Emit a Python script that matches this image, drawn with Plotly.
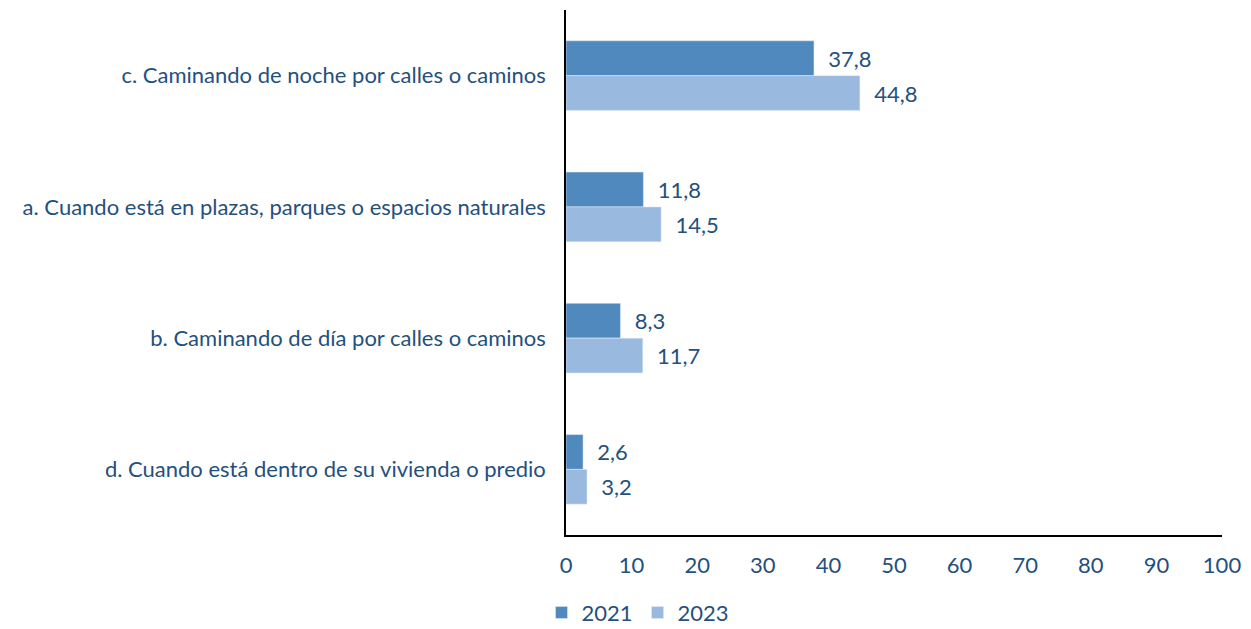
import plotly.graph_objects as go

categorias = [
    "c. Caminando de noche por calles o caminos",
    "a. Cuando está en plazas, parques o espacios naturales",
    "b. Caminando de día por calles o caminos",
    "d. Cuando está dentro de su vivienda o predio",
]
valores_2021 = [37.8, 11.8, 8.3, 2.6]
valores_2023 = [44.8, 14.5, 11.7, 3.2]
x_ticks = [0, 10, 20, 30, 40, 50, 60, 70, 80, 90, 100]

texto = "#24507d"
fuente = "Lato, 'Open Sans', sans-serif"
tam = 22

fig = go.Figure()
fig.add_trace(go.Bar(
    y=categorias, x=valores_2021, name="2021", orientation="h",
    marker_color="#4f89bd",
    texttemplate="  %{x:.1f}", textposition="outside", cliponaxis=False,
    textfont=dict(color=texto, size=tam),
))
fig.add_trace(go.Bar(
    y=categorias, x=valores_2023, name="2023", orientation="h",
    marker_color="#99b9df",
    texttemplate="  %{x:.1f}", textposition="outside", cliponaxis=False,
    textfont=dict(color=texto, size=tam),
))

fig.update_layout(
    width=1251, height=629,
    margin=dict(l=566, r=24, t=10, b=94),
    plot_bgcolor="white", paper_bgcolor="white",
    barmode="group", bargap=0.47, bargroupgap=0,
    separators=",.",
    font=dict(family=fuente, color=texto, size=tam),
    showlegend=True,
    legend=dict(orientation="h", xref="container", x=0.51, xanchor="center",
                yref="container", y=0.026, yanchor="middle",
                font=dict(size=tam), itemwidth=30),
)
fig.update_xaxes(
    range=[0, 100], tickvals=x_ticks, showgrid=False, zeroline=False,
    showline=True, linecolor="black", linewidth=1.5, ticks="",
    tickfont=dict(size=tam), ticklabelstandoff=10,
)
fig.update_yaxes(
    autorange="reversed", showgrid=False, showline=True, linecolor="black",
    linewidth=1.5, ticks="", tickfont=dict(size=tam), ticklabelstandoff=14,
)

# drop the default body margin so the figure fills the window exactly
fig.write_html("out.html", config={"displayModeBar": False},
               post_script="document.body.style.margin='0';")
